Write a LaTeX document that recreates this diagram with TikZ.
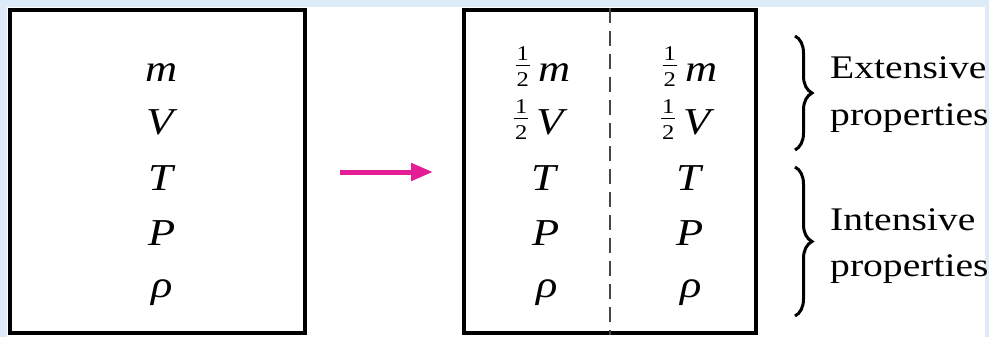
\documentclass[tikz,border=0pt]{standalone}
\usepackage{fontspec}
\setmainfont{Liberation Serif}
\usetikzlibrary{arrows.meta,decorations.pathreplacing}
\definecolor{bgblue}{RGB}{221,234,247}
\definecolor{arrowmag}{RGB}{228,28,150}
\definecolor{dashgray}{RGB}{70,70,70}
\newcommand{\sx}[1]{\scalebox{1.17}[1]{#1}}
\newcommand{\hf}{\raisebox{-5pt}{\vbox{\fontsize{21}{21}\selectfont
  \hbox to 12pt{\hfil 1\hfil}\kern 5pt\hrule height 0.8pt\kern 7pt
  \hbox to 12pt{\hfil 2\hfil}}}}
\begin{document}
\begin{tikzpicture}[x=1pt,y=-1pt,
  sym/.style={anchor=base, inner sep=0pt, font=\fontsize{38}{44}\selectfont},
  lbl/.style={anchor=base west, inner sep=0pt, font=\fontsize{33}{40}\selectfont},
  boxframe/.style={draw, line width=4pt, inner sep=0pt, fill=white},
  divider/.style={draw=dashgray, line width=2.5pt, dash pattern=on 15pt off 8pt},
  arr/.style={draw=arrowmag, line width=5pt, -{Triangle[length=22pt,width=17pt]}},
  brc/.style={draw, line width=3pt, decorate, decoration={brace, amplitude=17pt}}]
\useasboundingbox (0,0) rectangle (989,337);
\fill[bgblue] (0,0) rectangle (989,337);
\fill[white] (7,7) rectangle (985,337);
% boxes
\node[boxframe, minimum width=295pt, minimum height=323pt] (lbox) at (157.5,171.5) {};
\node[boxframe, minimum width=292pt, minimum height=323pt] (rbox) at (610,171.5) {};
\draw[divider] (rbox.north) -- (rbox.south);
% left box symbols
\node[sym] (lm) at (162,82) {\sx{\textit{m}}};
\node[sym] (lV) at (162,135) {\sx{\textit{V}}};
\node[sym] (lT) at (162,190) {\sx{\textit{T}}};
\node[sym] (lP) at (162,245) {\sx{\textit{P}}};
\node[sym] (lr) at (162,297) {\sx{\textit{ρ}}};
% right box, left half
\node[sym] (am) at (543,82) {\sx{\hf\hspace{7pt}\textit{m}}};
\node[sym] (aV) at (541,135) {\sx{\hf\hspace{7pt}\textit{V}}};
\node[sym] (aT) at (545,190) {\sx{\textit{T}}};
\node[sym] (aP) at (546,245) {\sx{\textit{P}}};
\node[sym] (ar) at (547,297) {\sx{\textit{ρ}}};
% right box, right half
\node[sym] (bm) at (690,82) {\sx{\hf\hspace{7pt}\textit{m}}};
\node[sym] (bV) at (688,135) {\sx{\hf\hspace{7pt}\textit{V}}};
\node[sym] (bT) at (690,190) {\sx{\textit{T}}};
\node[sym] (bP) at (690,245) {\sx{\textit{P}}};
\node[sym] (br) at (691,297) {\sx{\textit{ρ}}};
% arrow
\coordinate (a1) at (340,172);
\coordinate (a2) at (433,172);
\draw[arr] (a1) -- (a2);
% braces
\coordinate (e1) at (795,36);
\coordinate (e2) at (795,150);
\coordinate (i1) at (795,167);
\coordinate (i2) at (795,316);
\draw[brc] (e1) -- (e2);
\draw[brc] (i1) -- (i2);
% labels
\node[lbl] (ext) at (830,79) {\scalebox{1.2}[1]{Extensive}};
\node[lbl] (extp) at (830,125) {\scalebox{1.2}[1]{properties}};
\node[lbl] (int) at (830,230) {\scalebox{1.2}[1]{Intensive}};
\node[lbl] (intp) at (830,276) {\scalebox{1.2}[1]{properties}};
\end{tikzpicture}
\end{document}
